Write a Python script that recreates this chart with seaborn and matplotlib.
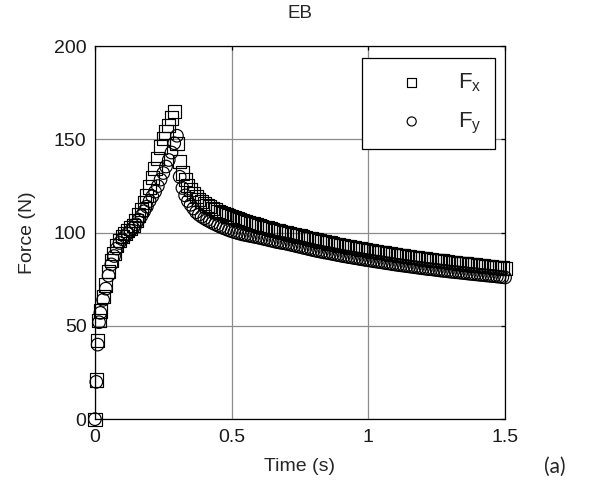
import numpy as np
import pandas as pd
import matplotlib
matplotlib.use("Agg")
import matplotlib.pyplot as plt
import seaborn as sns

# sample times (s)
time_s = [
    0.000, 0.005, 0.010, 0.015, 0.020,
    0.03, 0.04, 0.05, 0.06, 0.07, 0.08, 0.09, 0.10, 0.11, 0.12,
    0.13, 0.14, 0.15, 0.16, 0.17, 0.18, 0.19, 0.20, 0.21, 0.22,
    0.23, 0.24, 0.25, 0.26, 0.27, 0.28, 0.29,
    0.30, 0.31, 0.32, 0.33, 0.34, 0.35, 0.36, 0.37, 0.38, 0.39,
    0.40, 0.41, 0.42, 0.43, 0.44, 0.45, 0.46, 0.47, 0.48, 0.49,
    0.50, 0.51, 0.52, 0.53, 0.54, 0.55, 0.56, 0.57, 0.58, 0.59,
    0.60, 0.61, 0.62, 0.63, 0.64, 0.65, 0.66, 0.67, 0.68, 0.69,
    0.70, 0.71, 0.72, 0.73, 0.74, 0.75, 0.76, 0.77, 0.78, 0.79,
    0.80, 0.81, 0.82, 0.83, 0.84, 0.85, 0.86, 0.87, 0.88, 0.89,
    0.90, 0.91, 0.92, 0.93, 0.94, 0.95, 0.96, 0.97, 0.98, 0.99,
    1.00, 1.01, 1.02, 1.03, 1.04, 1.05, 1.06, 1.07, 1.08, 1.09,
    1.10, 1.11, 1.12, 1.13, 1.14, 1.15, 1.16, 1.17, 1.18, 1.19,
    1.20, 1.21, 1.22, 1.23, 1.24, 1.25, 1.26, 1.27, 1.28, 1.29,
    1.30, 1.31, 1.32, 1.33, 1.34, 1.35, 1.36, 1.37, 1.38, 1.39,
    1.40, 1.41, 1.42, 1.43, 1.44, 1.45, 1.46, 1.47, 1.48, 1.49,
    1.50,
]

# force in x direction (N)
force_x = [
    0, 21, 42, 53, 58,
    66, 72, 79, 85, 89, 93, 96, 98, 99.5, 101,
    102.5, 104, 106.5, 109.5, 112.5, 116, 120, 124.5, 129.5, 134.5,
    140, 146, 150.5, 154, 157.5, 161.5, 165,
    148, 138, 132, 128.5, 125.5, 123, 121, 119.3, 118, 116.8,
    115.8, 114.8, 113.9, 113.0, 112.2, 111.5, 110.8, 110.2, 109.6, 109.0,
    108.5, 108.0, 107.5, 107.0, 106.5, 106.0, 105.6, 105.1, 104.7, 104.2,
    103.8, 103.4, 103.0, 102.6, 102.2, 101.8, 101.4, 101.0, 100.6, 100.2,
    99.9, 99.5, 99.2, 98.8, 98.5, 98.2, 97.8, 97.5, 97.1, 96.8,
    96.4, 96.1, 95.8, 95.5, 95.2, 94.9, 94.5, 94.2, 93.9, 93.6,
    93.3, 93.0, 92.8, 92.5, 92.2, 92.0, 91.7, 91.4, 91.1, 90.9,
    90.6, 90.4, 90.1, 89.9, 89.6, 89.4, 89.2, 88.9, 88.7, 88.4,
    88.2, 88.0, 87.8, 87.6, 87.4, 87.2, 86.9, 86.7, 86.5, 86.3,
    86.1, 85.9, 85.7, 85.5, 85.3, 85.2, 85.0, 84.8, 84.6, 84.4,
    84.2, 84.0, 83.9, 83.7, 83.5, 83.4, 83.2, 83.0, 82.8, 82.7,
    82.5, 82.3, 82.2, 82.0, 81.8, 81.7, 81.5, 81.4, 81.2, 81.1,
    80.9,
]

# force in y direction (N)
force_y = [
    0, 20, 40, 52, 57,
    64, 70, 77, 83, 87.5, 91.5, 94.5, 96.5, 98, 99.5,
    101, 102.5, 104.5, 107, 109, 111.5, 114, 117, 119.5, 122,
    125, 128.5, 132, 135.5, 139, 143, 148,
    152, 130, 124, 120, 117, 115, 113, 111, 109.7, 108.6,
    107.7, 106.8, 106.0, 105.2, 104.5, 103.8, 103.1, 102.5, 101.9, 101.3,
    100.8, 100.3, 99.9, 99.5, 99.1, 98.8, 98.5, 98.2, 97.9, 97.6,
    97.3, 97.0, 96.6, 96.3, 95.9, 95.6, 95.2, 94.9, 94.6, 94.4,
    94.1, 93.8, 93.4, 93.1, 92.7, 92.4, 92.0, 91.7, 91.3, 91.0,
    90.6, 90.3, 90.0, 89.7, 89.4, 89.2, 88.9, 88.6, 88.3, 88.0,
    87.7, 87.4, 87.2, 86.9, 86.7, 86.4, 86.2, 85.9, 85.7, 85.4,
    85.2, 85.0, 84.7, 84.5, 84.3, 84.1, 83.8, 83.6, 83.4, 83.1,
    82.9, 82.7, 82.5, 82.3, 82.1, 81.9, 81.7, 81.5, 81.3, 81.1,
    80.9, 80.7, 80.5, 80.4, 80.2, 80.0, 79.8, 79.6, 79.5, 79.3,
    79.1, 79.0, 78.8, 78.7, 78.5, 78.4, 78.2, 78.0, 77.9, 77.7,
    77.6, 77.4, 77.3, 77.1, 77.0, 76.8, 76.7, 76.5, 76.4, 76.2,
    76.0,
]

x_ticks = [0, 0.5, 1, 1.5]
x_tick_labels = ["0", "0.5", "1", "1.5"]
y_ticks = [0, 50, 100, 150, 200]


def main():
    sns.set_style("white")
    plt.rcParams["font.family"] = ["Liberation Sans", "DejaVu Sans"]
    plt.rcParams["mathtext.fontset"] = "custom"
    plt.rcParams["mathtext.rm"] = "Liberation Sans"

    fig = plt.figure(figsize=(5.97, 4.92), dpi=100)
    ax = fig.add_axes([0.159, 0.148, 0.687, 0.758])

    df = pd.DataFrame({"t": time_s, "fx": force_x, "fy": force_y})

    # MATLAB-style open markers, not clipped at the axes edge
    sns.scatterplot(data=df, x="t", y="fx", ax=ax, marker="s", s=90,
                    facecolors="none", edgecolors="k", linewidth=0.85,
                    label=r"$\mathregular{F_x}$", zorder=3, clip_on=False)
    sns.scatterplot(data=df, x="t", y="fy", ax=ax, marker="o", s=82,
                    facecolors="none", edgecolors="k", linewidth=0.85,
                    label=r"$\mathregular{F_y}$", zorder=3, clip_on=False)

    ax.set_xlim(0, 1.5)
    ax.set_ylim(0, 200)
    ax.set_xticks(x_ticks)
    ax.set_xticklabels(x_tick_labels)
    ax.set_yticks(y_ticks)
    ax.grid(True, color="#8c8c8c", linewidth=0.9)
    ax.set_axisbelow(True)
    for sp in ax.spines.values():
        sp.set_color("k")
        sp.set_linewidth(0.9)
    ax.tick_params(direction="in", top=True, right=True, length=3,
                   width=0.9, labelsize=14, colors="k")
    ax.tick_params(axis="x", pad=7)
    ax.tick_params(axis="y", pad=6)
    ax.tick_params(labelcolor="#1a1a1a")

    ax.set_title("EB", fontsize=13.5, pad=20)
    ax.set_xlabel("Time (s)", fontsize=14, labelpad=9)
    ax.set_ylabel("Force (N)", fontsize=14, labelpad=13)

    leg = ax.legend(loc="upper right", bbox_to_anchor=(0.976, 0.968),
                    fontsize=16, frameon=True, fancybox=False,
                    edgecolor="k", framealpha=1, borderpad=0.6,
                    labelspacing=0.75, handlelength=3.3, handletextpad=0.45,
                    borderaxespad=0, markerscale=0.72)
    leg.get_frame().set_linewidth(0.9)

    fig.text(0.93, 0.051, "(a)", fontsize=15, family=["Lato", "DejaVu Sans"],
             ha="center", va="center")

    fig.savefig("out.png", dpi=100)


if __name__ == "__main__":
    main()
